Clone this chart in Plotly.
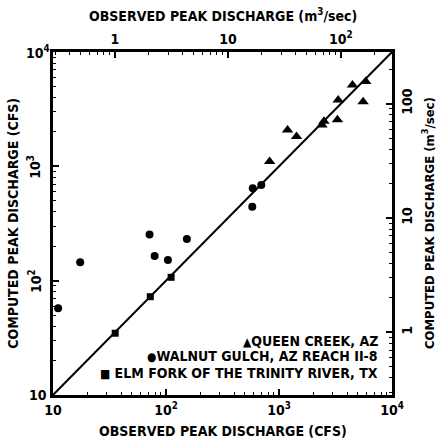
import numpy as np
import plotly.graph_objects as go

CFS_PER_CMS = 35.3147

# Queen Creek, AZ (triangles) observed / computed (cfs)
qc_obs = [4470, 5860, 5550, 3340, 3290, 2400, 2500, 1190, 1430, 826]
qc_comp = [5150, 5510, 3680, 3810, 2550, 2300, 2480, 2080, 1820, 1100]
# Walnut Gulch, AZ Reach 11-8 (circles)
wg_obs = [586, 697, 580, 71.5, 79.3, 104, 153, 17.4, 11.1]
wg_comp = [643, 687, 444, 254, 164, 152, 232, 145, 57.4]
# Elm Fork of the Trinity River, TX (squares)
ef_obs = [35.5, 72.6, 111]
ef_comp = [34.7, 72.4, 107]

line_pts = [10, 10000]

cfs_ticks = [10, 100, 1000, 10000]
cfs_text = ["10", "10<sup>2</sup>", "10<sup>3</sup>", "10<sup>4</sup>"]
cms_ticks = [1, 10, 100]
cms_top_text = ["1", "10", "10<sup>2</sup>"]
cms_right_text = ["1", "10", "100"]

FONT = "Liberation Sans Narrow, DejaVu Sans Condensed, Arial Narrow, sans-serif"

cfs_minor = [m * 10 ** d for d in range(1, 4) for m in range(2, 10)]
cms_minor = [v for v in (m * 10 ** d for d in range(-1, 3) for m in range(1, 10))
             if 10 / CFS_PER_CMS < v < 10000 / CFS_PER_CMS and v not in cms_ticks]

fig = go.Figure()
fig.add_trace(go.Scatter(x=line_pts, y=line_pts, mode="lines",
                         line=dict(color="black", width=2), showlegend=False))
fig.add_trace(go.Scatter(x=qc_obs, y=qc_comp, mode="markers",
                         marker=dict(symbol="triangle-up", size=10, color="black"), showlegend=False))
fig.add_trace(go.Scatter(x=wg_obs, y=wg_comp, mode="markers",
                         marker=dict(symbol="circle", size=8, color="black"), showlegend=False))
fig.add_trace(go.Scatter(x=ef_obs, y=ef_comp, mode="markers",
                         marker=dict(symbol="square", size=7, color="black"), showlegend=False))
# invisible trace on secondary axes so they render
fig.add_trace(go.Scatter(x=[1], y=[1], xaxis="x2", yaxis="y2", mode="markers",
                         marker=dict(opacity=0), showlegend=False, hoverinfo="skip"))

crange = [np.log10(10 / CFS_PER_CMS), np.log10(10000 / CFS_PER_CMS)]

axis_common = dict(type="log", showgrid=False, zeroline=False, showline=True,
                   linecolor="black", linewidth=2.5, ticks="inside", ticklen=6,
                   tickwidth=1.5, tickcolor="black",
                   tickfont=dict(family=FONT, size=14, color="black", weight="bold"))

fig.update_layout(
    width=442, height=444,
    margin=dict(l=53, r=50, t=52, b=49),
    plot_bgcolor="white", paper_bgcolor="white",
    xaxis=dict(**axis_common, range=[1, 4], tickmode="array", tickvals=cfs_ticks,
               ticktext=cfs_text, side="bottom",
               minor=dict(tickmode="array", tickvals=cfs_minor, ticks="inside",
                          ticklen=3, tickwidth=1.2, tickcolor="black")),
    yaxis=dict(**axis_common, range=[1, 4], tickmode="array", tickvals=cfs_ticks,
               ticktext=cfs_text, showticklabels=False,
               minor=dict(tickmode="array", tickvals=cfs_minor, ticks="inside",
                          ticklen=3, tickwidth=1.2, tickcolor="black")),
    xaxis2=dict(**axis_common, range=crange, overlaying="x", side="top", anchor="y",
                tickmode="array", tickvals=cms_ticks, ticktext=cms_top_text,
                minor=dict(tickmode="array", tickvals=cms_minor, ticks="inside",
                           ticklen=3, tickwidth=1.2, tickcolor="black")),
    yaxis2=dict(**axis_common, range=crange, overlaying="y", side="right", anchor="x",
                tickmode="array", tickvals=cms_ticks, ticktext=cms_right_text,
                tickangle=-90,
                minor=dict(tickmode="array", tickvals=cms_minor, ticks="inside",
                           ticklen=3, tickwidth=1.2, tickcolor="black")),
)

tf = dict(family=FONT, size=14, color="black", weight="bold")
ann = []
# left tick labels (outer ones horizontal, inner ones rotated)
left_angles = [0, -90, -90, 0]
for v, t, a in zip(cfs_ticks, cfs_text, left_angles):
    ann.append(dict(x=-0.045 if a == 0 else -0.055, xref="paper", y=np.log10(v), yref="y",
                    text=t, showarrow=False, textangle=a, font=tf,
                    xanchor="center", yanchor="middle"))
# axis titles
ann.append(dict(x=0.5, xref="paper", y=-0.105, yref="paper", text="OBSERVED PEAK DISCHARGE (CFS)",
                showarrow=False, font=tf, xanchor="center", yanchor="middle"))
ann.append(dict(x=0.5, xref="paper", y=1.107, yref="paper", text="OBSERVED PEAK DISCHARGE (m<sup>3</sup>/sec)",
                showarrow=False, font=tf, xanchor="center", yanchor="middle"))
ann.append(dict(x=-0.12, xref="paper", y=0.5, yref="paper", text="COMPUTED PEAK DISCHARGE (CFS)",
                showarrow=False, font=tf, textangle=-90, xanchor="center", yanchor="middle"))
ann.append(dict(x=1.105, xref="paper", y=0.5, yref="paper", text="COMPUTED PEAK DISCHARGE (m<sup>3</sup>/sec)",
                showarrow=False, font=dict(family=FONT, size=13, color="black", weight="bold"),
                textangle=-90, xanchor="center", yanchor="middle"))
# legend text
lf = dict(family=FONT, size=14, color="black", weight="bold")
sym = '<span style="font-size:12px">{}</span>'
legend_rows = [(sym.format("▲") + "QUEEN CREEK, AZ", 0.158),
               (sym.format("●") + "WALNUT GULCH, AZ REACH II-8", 0.114),
               (sym.format("■") + " ELM FORK OF THE TRINITY RIVER, TX", 0.064)]
for txt, yy in legend_rows:
    ann.append(dict(x=0.965, xref="paper", y=yy, yref="paper", text=txt, showarrow=False,
                    font=lf, xanchor="right", yanchor="middle"))
fig.update_layout(annotations=ann)

fig.write_html("out.html")
